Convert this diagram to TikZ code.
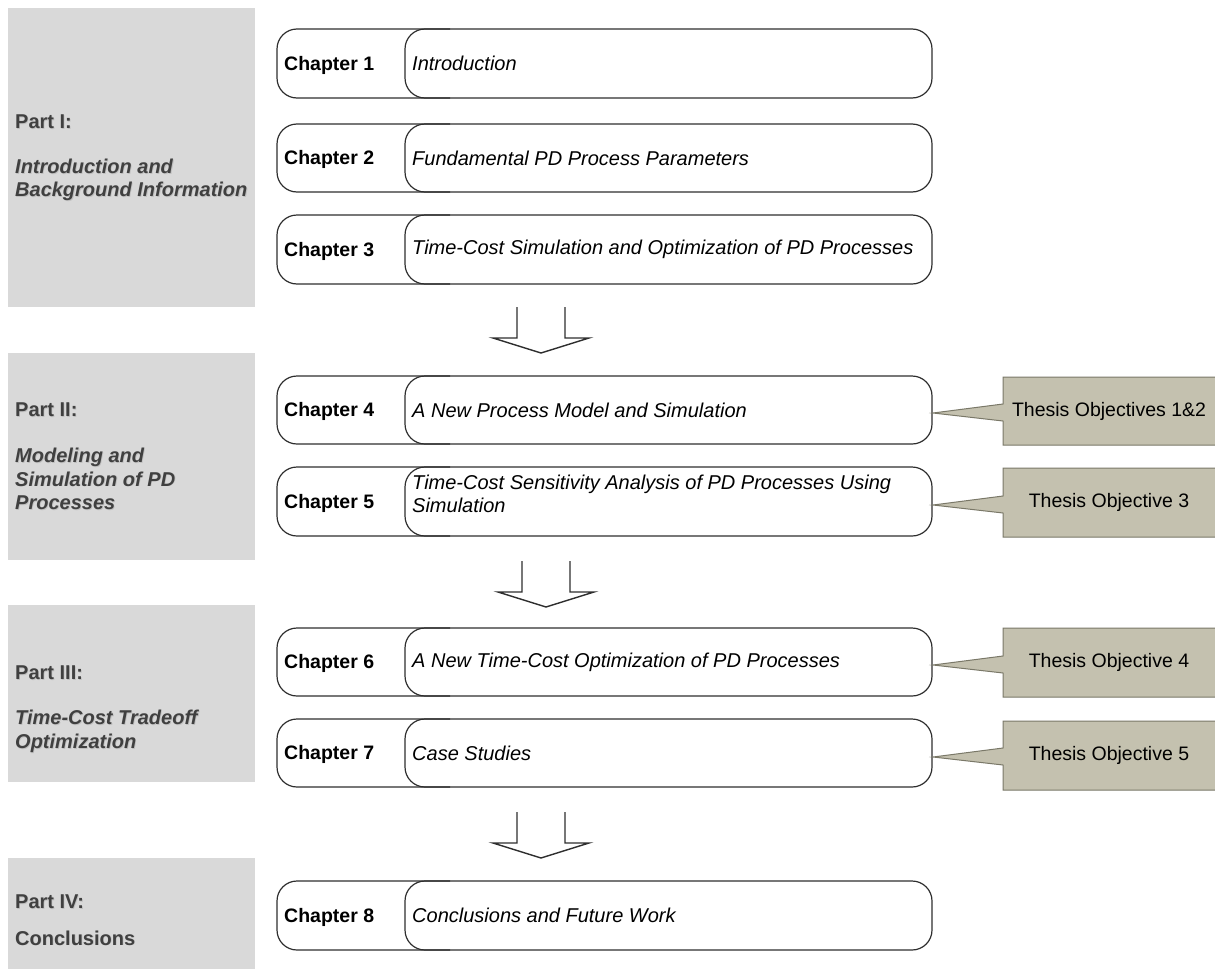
\documentclass[tikz,border=0pt]{standalone}
\usepackage{fontspec}
\setmainfont{Liberation Sans}

\definecolor{panelgray}{HTML}{D9D9D9}
\definecolor{partink}{HTML}{404040}
\definecolor{partshade}{HTML}{9A9A9A}
\definecolor{objfill}{HTML}{C4C1AF}
\definecolor{objline}{HTML}{7A7868}
\definecolor{boxline}{HTML}{2E2E2E}

\tikzset{
  panel/.style={fill=panelgray, draw=none},
  parthead/.style={anchor=west, inner sep=0pt, text=partink,
    font=\fontsize{20}{24}\selectfont\bfseries},
  partsub/.style={parthead, align=left,
    font=\fontsize{20}{23.5}\selectfont\bfseries\itshape},
  shade/.style={text=partshade, text opacity=0.4},
  chapframe/.style={draw=boxline, line width=1.2pt, rounded corners=20pt},
  chaplabel/.style={anchor=west, inner sep=0pt,
    font=\fontsize{19.5}{23}\selectfont\bfseries},
  chaptitle/.style={anchor=west, inner sep=0pt, align=left,
    font=\fontsize{20}{23}\selectfont\itshape},
  callout/.style={fill=objfill, draw=objline, line width=1pt},
  objtext/.style={inner sep=0pt, font=\fontsize{19.5}{23}\selectfont},
  blockarrow/.style={draw=boxline, line width=1.4pt, line join=miter},
}

% part caption with a soft drop shadow: name, style, x, y, text
\newcommand{\partcaption}[5]{%
  \node[#2, shade] (#1-shadow) at (#3+0.8,#4+0.8) {#5};
  \node[#2] (#1) at (#3,#4) {#5};
}

% one chapter row: name, top, bottom, number, title y, title
\newcommand{\chapterrow}[6]{%
  \draw[chapframe] (277,#2) rectangle (932,#3);
  \draw[chapframe] (450,#2) -- (405,#2) -- (405,#3) -- (450,#3);
  \node[chaplabel] (#1-num) at (284,{(#2+#3)/2+1.5}) {Chapter #4};
  \node[chaptitle] (#1-title) at (412,#5) {#6};
}

% callout box with a pointer toward a chapter row: name, top, bottom, tip y, text
\newcommand{\objcallout}[5]{%
  \draw[callout] (1003,#2) -- (1216,#2) -- (1216,#3) -- (1003,#3)
    -- (1003,{#4+8}) -- (933,#4) -- (1003,{#4-9}) -- cycle;
  \node[objtext] (#1) at (1109,{(#2+#3)/2}) {#5};
}

% hollow down arrow: left stem x, top y
\newcommand{\partarrow}[2]{%
  \draw[blockarrow] (#1,#2) -- ++(0,31) -- ++(-24,0) -- ++(48,15)
    -- ++(48,-15) -- ++(-24,0) -- ++(0,-31);
}

\begin{document}
\begin{tikzpicture}[x=1pt, y=-1pt]
  \useasboundingbox (0,0) rectangle (1215,969);

  % part panels
  \fill[panel] (8,8) rectangle (255,307);
  \fill[panel] (8,353) rectangle (255,560);
  \fill[panel] (8,605) rectangle (255,782);
  \fill[panel] (8,858) rectangle (255,969);

  \partcaption{p1}{parthead}{15}{122}{Part I:}
  \partcaption{p1sub}{partsub}{15}{180}{Introduction and\\Background Information}
  \partcaption{p2}{parthead}{15}{410}{Part II:}
  \partcaption{p2sub}{partsub}{15}{479}{Modeling and\\Simulation of PD\\Processes}
  \partcaption{p3}{parthead}{15}{673}{Part III:}
  \partcaption{p3sub}{partsub}{15}{731.5}{Time-Cost Tradeoff\\Optimization}
  \partcaption{p4}{parthead}{15}{902}{Part IV:}
  \partcaption{p4sub}{parthead}{15}{938}{Conclusions}

  % chapters
  \chapterrow{ch1}{29}{98}{1}{63.5}{Introduction}
  \chapterrow{ch2}{124}{192}{2}{158}{Fundamental PD Process Parameters}
  \chapterrow{ch3}{215}{284}{3}{249.5}{Time-Cost Simulation and Optimization of PD Processes}
  \chapterrow{ch4}{376}{444}{4}{410}{A New Process Model and Simulation}
  \chapterrow{ch5}{467}{536}{5}{494}{Time-Cost Sensitivity Analysis of PD Processes Using\\Simulation}
  \chapterrow{ch6}{628}{696}{6}{662}{A New Time-Cost Optimization of PD Processes}
  \chapterrow{ch7}{719}{787}{7}{753}{Case Studies}
  \chapterrow{ch8}{881}{950}{8}{915.5}{Conclusions and Future Work}

  % flow between parts
  \partarrow{517}{307}
  \partarrow{522}{561}
  \partarrow{517}{812}

  % thesis objectives
  \objcallout{obj12}{377}{445}{413}{Thesis Objectives 1\&2}
  \objcallout{obj3}{468}{537}{505}{Thesis Objective 3}
  \objcallout{obj4}{628}{697}{665}{Thesis Objective 4}
  \objcallout{obj5}{721}{790}{757}{Thesis Objective 5}
\end{tikzpicture}
\end{document}
